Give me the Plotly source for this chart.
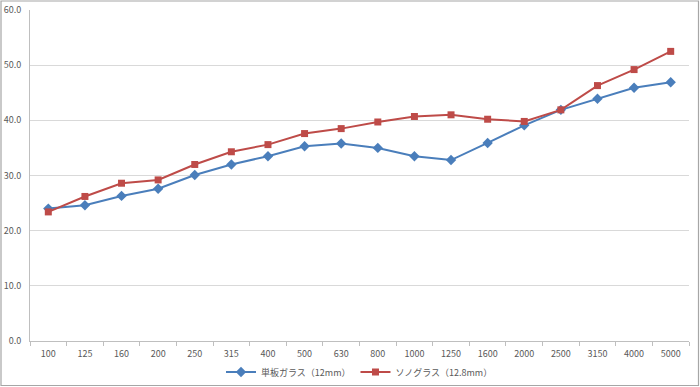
import plotly.graph_objects as go

categories = ["100", "125", "160", "200", "250", "315", "400", "500", "630", "800",
              "1000", "1250", "1600", "2000", "2500", "3150", "4000", "5000"]
single_glass = [24.0, 24.6, 26.3, 27.6, 30.1, 32.0, 33.5, 35.3, 35.8, 35.0,
                33.5, 32.8, 35.9, 39.1, 41.9, 43.9, 45.9, 46.9]
sono_glass = [23.4, 26.2, 28.6, 29.2, 32.0, 34.3, 35.6, 37.6, 38.5, 39.7,
              40.7, 41.0, 40.2, 39.8, 41.9, 46.3, 49.2, 52.5]
series_names = ["単板ガラス（12mm）", "ソノグラス（12.8mm）"]
y_ticks = [0, 10, 20, 30, 40, 50, 60]

W, H = 700, 387
ml, mr, mt, mb = 30, 11, 10, 46
pw, ph = W - ml - mr, H - mt - mb

font_family = "Noto Sans CJK JP, Noto Sans, sans-serif"

fig = go.Figure()
fig.add_trace(go.Scatter(
    x=categories, y=single_glass, name=series_names[0], mode="lines+markers",
    line=dict(color="#4A7EBB", width=2),
    marker=dict(symbol="diamond", size=8, color="#4A7EBB"),
    cliponaxis=False,
))
fig.add_trace(go.Scatter(
    x=categories, y=sono_glass, name=series_names[1], mode="lines+markers",
    line=dict(color="#BE4B48", width=2),
    marker=dict(symbol="square", size=7, color="#BE4B48"),
    cliponaxis=False,
))

def px_to_x(p):
    return (p - ml) / pw

def px_to_y(p):
    return (mt + ph - p) / ph

fig.add_shape(type="rect", xref="paper", yref="paper",
              x0=px_to_x(1), x1=px_to_x(698.5), y0=px_to_y(385.5), y1=px_to_y(1),
              line=dict(color="#A6A6A6", width=1.2), fillcolor="rgba(0,0,0,0)", layer="below")

fig.update_layout(
    width=W, height=H,
    margin=dict(l=ml, r=mr, t=mt, b=mb, autoexpand=False),
    paper_bgcolor="white", plot_bgcolor="white",
    font=dict(family=font_family, size=9, color="#595959"),
    showlegend=True,
    legend=dict(orientation="h", x=0.5, xanchor="center",
                yref="container", y=(H - 372) / H, yanchor="middle",
                font=dict(size=9, color="#595959"), bgcolor="rgba(0,0,0,0)",
                tracegroupgap=0),
    xaxis=dict(
        type="category", showgrid=False, showline=True, linecolor="#BFBFBF", linewidth=1,
        ticks="outside", tickson="boundaries", ticklen=4, tickcolor="#BFBFBF",
        tickfont=dict(size=9, color="#595959"), range=[-0.5, len(categories) - 0.5],
        automargin=False, ticklabelstandoff=4,
    ),
    yaxis=dict(
        range=[0, 60], tickvals=y_ticks, ticktext=[f"{v:.1f}" for v in y_ticks],
        showgrid=True, gridcolor="#D9D9D9", gridwidth=1, zeroline=False,
        showline=True, linecolor="#BFBFBF", linewidth=1, ticks="",
        tickfont=dict(size=9, color="#595959"), automargin=False, ticklabelstandoff=6,
    ),
)

fig.write_html(
    "out.html",
    config={"displayModeBar": False},
    post_script="document.body.style.margin='0';document.body.style.overflow='hidden';",
)
